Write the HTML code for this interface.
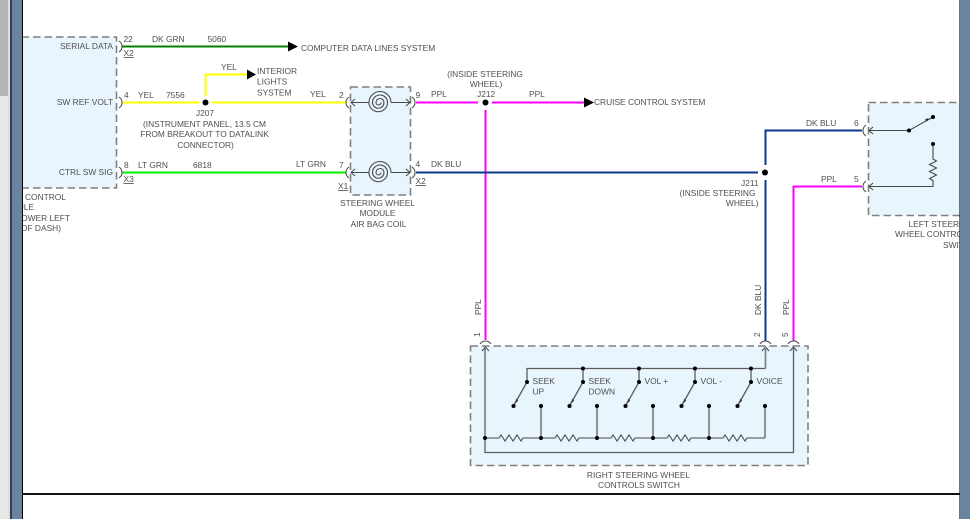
<!DOCTYPE html>
<html><head><meta charset="utf-8"><style>
html,body{margin:0;padding:0;background:#fff;width:970px;height:519px;overflow:hidden}
svg{display:block}
text{font-family:"Liberation Sans",sans-serif;font-size:8.4px;fill:#4f4f4f}
.m{text-anchor:middle}.e{text-anchor:end}
.box{fill:#e8f5fd;stroke:#808080;stroke-width:1.6;stroke-dasharray:7.500 4}
.w{fill:none;stroke-width:2}
.g{fill:none;stroke:#4a4a4a;stroke-width:1.100}
.t{fill:none;stroke:#5c5c5c;stroke-width:1.300}
.v{fill:none;stroke:#808080;stroke-width:1.700}
.c{fill:none;stroke:#444;stroke-width:1}
</style></head><body>
<svg width="970" height="519" viewBox="0 0 970 519" xmlns="http://www.w3.org/2000/svg">
<rect width="970" height="519" fill="#fff"/>

<!-- boxes -->
<rect class="box" x="10" y="37" width="106.500" height="151"/>
<rect class="box" x="350.500" y="87" width="60" height="108"/>
<rect class="box" x="868.500" y="102.500" width="110" height="113"/>
<rect class="box" x="470.500" y="346" width="337.500" height="119.500"/>

<!-- wires -->
<path class="w" stroke="#008000" d="M122 46.500H289"/>
<path class="w" stroke="#ffff00" d="M122 102.500H199M212 102.500H346M205.500 96V74.500H248"/>
<path class="w" stroke="#00f000" d="M122 172.500H346"/>
<path class="w" stroke="#ff00ff" d="M416 102.500H478M492 102.500H585M485.500 110V340M862 186.500H793.500V341"/>
<path class="w" stroke="#0b3a8c" d="M416 172.500H758M862 130.500H765.500V165M765.500 180V341"/>

<!-- arrowheads and junctions -->
<path d="M288 41.500L298 46.500L288 51.500Z M247 69.500L256 74.500L247 79.500Z M584 97.500L594 102.500L584 107.500Z" fill="#000"/>
<circle cx="205.500" cy="102.500" r="3" fill="#000"/>
<circle cx="485.500" cy="102.500" r="3" fill="#000"/>
<circle cx="765" cy="172.500" r="3" fill="#000"/>

<!-- connector brackets -->
<path class="c" d="M119 41q3 2 3 5.500q0 3.500-3 5.500M119 97q3 2 3 5.500q0 3.500-3 5.500M119 167q3 2 3 5.500q0 3.500-3 5.500"/>
<path class="c" d="M349 97q-3 2-3 5.500q0 3.500 3 5.500M349 167q-3 2-3 5.500q0 3.500 3 5.500M412 97q3 2 3 5.500q0 3.500-3 5.500M412 167q3 2 3 5.500q0 3.500-3 5.500"/>
<path class="c" d="M866 125q-3 2-3 5.500q0 3.500 3 5.500M866 181q-3 2-3 5.500q0 3.500 3 5.500"/>
<path class="c" d="M480 344q2-3 5.500-3q3.500 0 5.500 3M760 344q2-3 5.500-3q3.500 0 5.500 3M788 344q2-3 5.500-3q3.500 0 5.500 3"/>
<path class="c" d="M355 99l-4 3.500l4 3.500M355 169l-4 3.500l4 3.500M406 99l4 3.500l-4 3.500M406 169l4 3.500l-4 3.500M873 127l-4 3.500l4 3.500M873 183l-4 3.500l4 3.500M482 351l3.500-4l3.500 4M762 351l3.500-4l3.500 4M790 351l3.500-4l3.500 4"/>

<!-- coils -->
<path class="g" d="M351 102.500H369M391 102.500H410M351 172.500H369M391 172.500H410"/>
<path class="g" d="M391 102.500A11 11 0 0 0 369 102.500A9.250 9.250 0 0 0 387.500 102.500A7.500 7.500 0 0 0 372.500 102.500A5.750 5.750 0 0 0 384 102.500A4 4 0 0 0 376 102.500A2.500 2.500 0 0 0 381 102.500"/>
<path class="g" d="M391 172.500A11 11 0 0 0 369 172.500A9.250 9.250 0 0 0 387.500 172.500A7.500 7.500 0 0 0 372.500 172.500A5.750 5.750 0 0 0 384 172.500A4 4 0 0 0 376 172.500A2.500 2.500 0 0 0 381 172.500"/>

<!-- left switch -->
<path class="g" d="M869 130.500H909L933 117M933 144V159l3.500 2l-7 3.500l7 3.500l-7 3.500l7 3.500l-7 3.500l3.500 2V186.500H869"/>
<path d="M925 119.500l3.500-1.500l-1.500 3.500Z" fill="#222"/>
<circle cx="909" cy="130.500" r="2" fill="#000"/><circle cx="933" cy="117" r="2" fill="#000"/><circle cx="933" cy="144" r="2" fill="#000"/>

<!-- right switch block -->
<path class="t" d="M485 347V452.500H793.500V347"/>
<path class="t" d="M527 382V368.500H765.500"/>
<path class="v" d="M765.500 368.500V347"/>
<path class="v" d="M583 368.500V382M639 368.500V382M695 368.500V382M751 368.500V382"/>
<path class="v" d="M541 406V438M597 406V438M653 406V438M709 406V438"/>
<path class="t" d="M765 406V438"/>
<path class="t" d="M527 382L513.500 406M583 382L569.500 406M639 382L625.500 406M695 382L681.500 406M751 382L737.500 406"/>
<path d="M516.500 398.500l1.500 2.500l-3 2Z M572.500 398.500l1.500 2.500l-3 2Z M628.500 398.500l1.500 2.500l-3 2Z M684.500 398.500l1.500 2.500l-3 2Z M740.500 398.500l1.500 2.500l-3 2Z" fill="#222"/>
<path class="g" d="M485 438H499l2 -3l4 6l4 -6l4 6l4 -6l4 6l2 -3H555l2 -3l4 6l4 -6l4 6l4 -6l4 6l2 -3H611l2 -3l4 6l4 -6l4 6l4 -6l4 6l2 -3H667l2 -3l4 6l4 -6l4 6l4 -6l4 6l2 -3H723l2 -3l4 6l4 -6l4 6l4 -6l4 6l2 -3H765"/>
<g fill="#000">
<circle cx="527" cy="382" r="2"/><circle cx="583" cy="382" r="2"/><circle cx="639" cy="382" r="2"/><circle cx="695" cy="382" r="2"/><circle cx="751" cy="382" r="2"/>
<circle cx="583" cy="368.500" r="2"/><circle cx="639" cy="368.500" r="2"/><circle cx="695" cy="368.500" r="2"/><circle cx="751" cy="368.500" r="2"/>
<circle cx="513.500" cy="406" r="2"/><circle cx="569.500" cy="406" r="2"/><circle cx="625.500" cy="406" r="2"/><circle cx="681.500" cy="406" r="2"/><circle cx="737.500" cy="406" r="2"/>
<circle cx="541" cy="406" r="2"/><circle cx="597" cy="406" r="2"/><circle cx="653" cy="406" r="2"/><circle cx="709" cy="406" r="2"/><circle cx="765" cy="406" r="2"/>
<circle cx="485" cy="438" r="2"/><circle cx="541" cy="438" r="2"/><circle cx="597" cy="438" r="2"/><circle cx="653" cy="438" r="2"/><circle cx="709" cy="438" r="2"/>
</g>

<!-- labels: left -->
<text class="e" x="113" y="49">SERIAL DATA</text>
<text class="e" x="113" y="105">SW REF VOLT</text>
<text class="e" x="113" y="175">CTRL SW SIG</text>
<text x="25" y="200">CONTROL</text>
<text class="e" x="34" y="210">MODULE</text>
<text class="e" x="70" y="221">(LOWER LEFT</text>
<text class="e" x="61" y="231">(OF DASH)</text>

<text x="123.500" y="42">22</text><text x="152" y="42">DK GRN</text><text x="207.500" y="42">5060</text>
<text x="123.500" y="56" text-decoration="underline">X2</text>
<text x="301" y="51">COMPUTER DATA LINES SYSTEM</text>
<text x="221" y="70">YEL</text>
<text x="257" y="74">INTERIOR</text><text x="257" y="84.500">LIGHTS</text><text x="257" y="95.500">SYSTEM</text>
<text x="124" y="98">4</text><text x="138" y="98">YEL</text><text x="166" y="98">7556</text><text x="310" y="97">YEL</text>
<text class="m" x="205" y="116">J207</text>
<text class="m" x="204.500" y="127">(INSTRUMENT PANEL, 13.5 CM</text>
<text class="m" x="204.500" y="137">FROM BREAKOUT TO DATALINK</text>
<text class="m" x="205.500" y="148">CONNECTOR)</text>
<text x="124" y="168">8</text><text x="138" y="168">LT GRN</text><text x="193" y="168">6818</text><text x="296" y="167">LT GRN</text>
<text x="123.500" y="182" text-decoration="underline">X3</text>

<!-- labels: coil -->
<text x="339" y="98">2</text><text x="339" y="168">7</text>
<text x="338" y="189" text-decoration="underline">X1</text>
<text x="415.500" y="98">9</text><text x="415.500" y="167">4</text>
<text x="415.500" y="184" text-decoration="underline">X2</text>
<text x="431" y="97">PPL</text><text x="477" y="97">J212</text><text x="529" y="97">PPL</text>
<text x="431" y="167">DK BLU</text>
<text class="m" x="485" y="77">(INSIDE STEERING</text>
<text class="m" x="486" y="87">WHEEL)</text>
<text x="594" y="105">CRUISE CONTROL SYSTEM</text>
<text class="m" x="377.500" y="206">STEERING WHEEL</text>
<text class="m" x="377.500" y="216">MODULE</text>
<text class="m" x="378.500" y="227">AIR BAG COIL</text>

<!-- labels: right -->
<text x="806" y="126">DK BLU</text><text x="854" y="126">6</text>
<text x="821" y="182">PPL</text><text x="854" y="182">5</text>
<text x="741" y="186">J211</text>
<text class="e" x="755.500" y="196">(INSIDE STEERING</text>
<text class="e" x="758.500" y="206">WHEEL)</text>
<text x="908.500" y="227">LEFT STEERING</text>
<text x="895" y="237">WHEEL CONTROLS</text>
<text x="943" y="248">SWITCH</text>

<!-- labels: bottom -->
<text transform="translate(481 315) rotate(-90)">PPL</text>
<text transform="translate(761 315) rotate(-90)">DK BLU</text>
<text transform="translate(789 315) rotate(-90)">PPL</text>
<text transform="translate(480 337) rotate(-90)">1</text>
<text transform="translate(760 337) rotate(-90)">2</text>
<text transform="translate(788 337) rotate(-90)">5</text>
<text x="532.500" y="384">SEEK</text><text x="532.500" y="394.500">UP</text>
<text x="588.500" y="384">SEEK</text><text x="588.500" y="394.500">DOWN</text>
<text x="644.500" y="384">VOL +</text><text x="700.500" y="384">VOL -</text><text x="756.500" y="384">VOICE</text>
<text class="m" x="638.500" y="478">RIGHT STEERING WHEEL</text>
<text class="m" x="639" y="488">CONTROLS SWITCH</text>

<!-- page rule -->
<rect x="23" y="493" width="947" height="2" fill="#111"/>

<!-- browser chrome left -->
<rect x="0" y="0" width="8" height="519" fill="#e8e8e8"/>
<rect x="0" y="0" width="8" height="96" fill="#b6b6b6"/>
<rect x="8" y="0" width="2" height="519" fill="#e0e0e0"/>
<rect x="10" y="0" width="2" height="519" fill="#3d3a55"/>
<rect x="12" y="0" width="10" height="519" fill="#68849f"/>
<rect x="22" y="0" width="1" height="519" fill="#000"/>
<!-- right -->
<rect x="959" y="0" width="1" height="519" fill="#000" opacity=".55"/>
<rect x="960" y="0" width="10" height="519" fill="#68849f"/>
</svg>
</body></html>
